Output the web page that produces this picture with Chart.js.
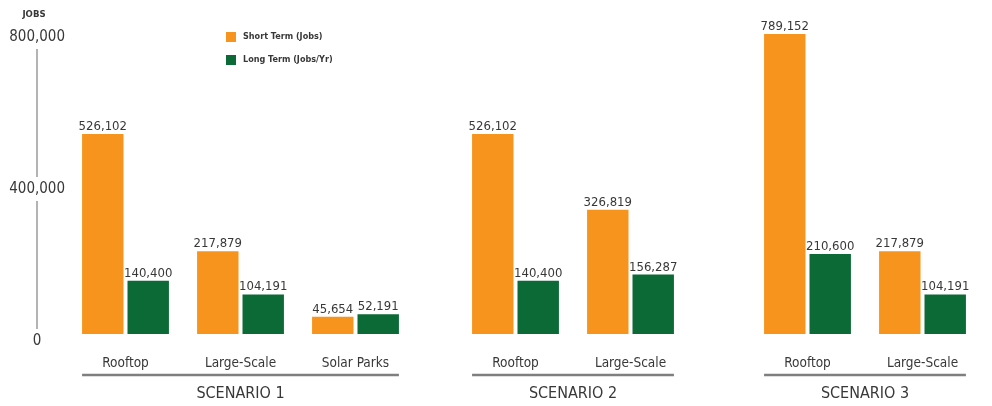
<!DOCTYPE html>
<html>
<head>
<meta charset="utf-8">
<script src="https://cdn.jsdelivr.net/npm/chart.js@4.4.1/dist/chart.umd.min.js"></script>
<style>
    html, body { margin: 0; padding: 0; background: #fff; }
    #wrap { position: relative; width: 992px; height: 406px; overflow: hidden; }
    #wrap canvas { position: absolute; top: 0; }
</style>
</head>
<body>
<div id="wrap">
    <canvas id="scenario1" width="413" height="406" style="left:0px"></canvas>
    <canvas id="scenario2" width="230" height="406" style="left:458px"></canvas>
    <canvas id="scenario3" width="230" height="406" style="left:750px"></canvas>
</div>
<script>
const scenarioTitles = ['SCENARIO 1', 'SCENARIO 2', 'SCENARIO 3'];
const scenario1Types = ['Rooftop', 'Large-Scale', 'Solar Parks'];
const scenario2Types = ['Rooftop', 'Large-Scale'];
const scenario3Types = ['Rooftop', 'Large-Scale'];

const shortTerm1 = [526102, 217879, 45654];
const longTerm1 = [140400, 104191, 52191];
const shortTerm2 = [526102, 326819];
const longTerm2 = [140400, 156287];
const shortTerm3 = [789152, 217879];
const longTerm3 = [210600, 104191];

const seriesNames = ['Short Term (Jobs)', 'Long Term (Jobs/Yr)'];
const yTicks = [0, 400000, 800000];
const yTitle = 'JOBS';

const ORANGE = '#F7941E';
const GREEN = '#0B6A35';
const TEXT = '#383838';
const FONT = "'Liberation Sans Narrow', 'DejaVu Sans Condensed', 'Liberation Sans', sans-serif";

const fmt = v => v.toLocaleString('en-US');

// numbers above every bar
const valueLabels = {
    id: 'valueLabels',
    afterDatasetsDraw(chart) {
        const ctx = chart.ctx;
        ctx.save();
        ctx.fillStyle = TEXT;
        ctx.font = '13px ' + FONT;
        ctx.textAlign = 'center';
        ctx.textBaseline = 'alphabetic';
        chart.data.datasets.forEach((ds, i) => {
            chart.getDatasetMeta(i).data.forEach((bar, j) => {
                ctx.fillText(fmt(ds.data[j]), bar.x, bar.y - 4);
            });
        });
        ctx.restore();
    }
};

// grey rule under the category labels of each scenario
const scenarioRule = {
    id: 'scenarioRule',
    afterDraw(chart) {
        const first = chart.getDatasetMeta(0).data[0];
        const lastMeta = chart.getDatasetMeta(chart.data.datasets.length - 1).data;
        const last = lastMeta[lastMeta.length - 1];
        const y = chart.scales.x.top + 41;
        const ctx = chart.ctx;
        ctx.save();
        ctx.strokeStyle = '#7f7f7f';
        ctx.lineWidth = 2.5;
        ctx.beginPath();
        ctx.moveTo(first.x - first.width / 2, y);
        ctx.lineTo(last.x + last.width / 2, y);
        ctx.stroke();
        ctx.restore();
    }
};

// y axis line broken by the tick labels, "JOBS" and the legend
const axisDecor = {
    id: 'axisDecor',
    afterDraw(chart) {
        const y = chart.scales.y;
        const ctx = chart.ctx;
        const cx = 37;
        const off = y.options.ticks.labelOffset;
        const p = yTicks.map(v => y.getPixelForValue(v) + off).sort((a, b) => a - b);
        ctx.save();
        ctx.strokeStyle = '#9a9a9a';
        ctx.lineWidth = 1.5;
        ctx.beginPath();
        for (let i = 0; i < p.length - 1; i++) {
            ctx.moveTo(cx, p[i] + 12);
            ctx.lineTo(cx, p[i + 1] - 12);
        }
        ctx.stroke();

        ctx.fillStyle = TEXT;
        ctx.font = 'bold 9.5px ' + FONT;
        ctx.textAlign = 'center';
        ctx.textBaseline = 'middle';
        ctx.fillText(yTitle, cx - 3, 15);

        ctx.font = 'bold 9px ' + FONT;
        const lx = chart.chartArea.left + 158;
        const ly = chart.chartArea.top + 2;
        [ORANGE, GREEN].forEach((c, i) => {
            ctx.fillStyle = c;
            ctx.fillRect(lx, ly + i * 23, 10, 10);
            ctx.fillStyle = TEXT;
            ctx.textAlign = 'left';
            ctx.fillText(seriesNames[i], lx + 17, ly + 5 + i * 23);
        });
        ctx.restore();
    }
};

function makeChart(id, labels, shortVals, longVals, title, showY) {
    const plugins = [valueLabels, scenarioRule];
    if (showY) plugins.push(axisDecor);
    return new Chart(document.getElementById(id), {
        type: 'bar',
        data: {
            labels: labels,
            datasets: [
                { label: seriesNames[0], data: shortVals, backgroundColor: ORANGE },
                { label: seriesNames[1], data: longVals, backgroundColor: GREEN }
            ]
        },
        options: {
            responsive: false,
            animation: false,
            categoryPercentage: 0.79,
            barPercentage: 0.912,
            layout: { padding: { top: 30, left: 0, right: 0, bottom: 0 } },
            plugins: {
                legend: { display: false },
                tooltip: { enabled: false }
            },
            scales: {
                x: {
                    grid: { display: false },
                    border: { display: false },
                    ticks: {
                        color: TEXT,
                        font: { family: FONT, size: 13.5 },
                        padding: 13,
                        maxRotation: 0,
                        autoSkip: false
                    },
                    title: {
                        display: true,
                        text: title,
                        color: TEXT,
                        font: { family: FONT, size: 16 },
                        padding: { top: 0, bottom: 3 }
                    },
                    afterFit: s => { s.height = 72; }
                },
                y: {
                    display: showY,
                    min: 0,
                    max: 800000,
                    grid: { display: false, drawTicks: false },
                    border: { display: false },
                    afterBuildTicks: s => { s.ticks = yTicks.map(v => ({ value: v })); },
                    afterFit: s => { s.width = showY ? 68 : 0; },
                    ticks: {
                        color: TEXT,
                        font: { family: FONT, size: 15 },
                        crossAlign: 'center',
                        padding: 3,
                        labelOffset: 7,
                        callback: v => fmt(v)
                    }
                }
            }
        },
        plugins: plugins
    });
}

makeChart('scenario1', scenario1Types, shortTerm1, longTerm1, scenarioTitles[0], true);
makeChart('scenario2', scenario2Types, shortTerm2, longTerm2, scenarioTitles[1], false);
makeChart('scenario3', scenario3Types, shortTerm3, longTerm3, scenarioTitles[2], false);
</script>
</body>
</html>
